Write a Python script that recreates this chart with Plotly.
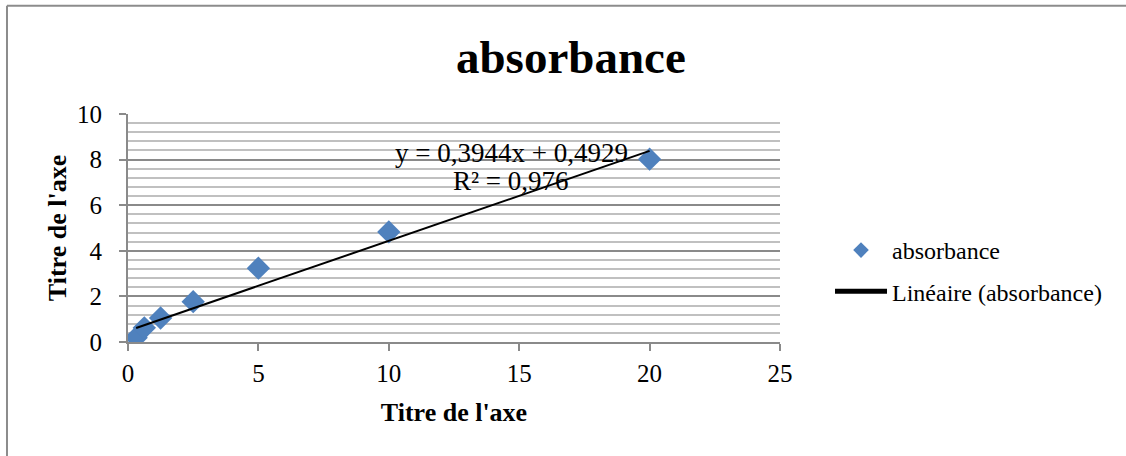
import plotly.graph_objects as go

# Data
x_vals = [0.3125, 0.625, 1.25, 2.5, 5, 10, 20]
y_vals = [0.19, 0.62, 1.05, 1.77, 3.24, 4.83, 8.02]
slope = 0.3944
intercept = 0.4929
r2 = 0.976
series_name = "absorbance"
trend_name = "Linéaire (absorbance)"
x_ticks = [0, 5, 10, 15, 20, 25]
y_ticks = [0, 2, 4, 6, 8, 10]

FONT = "Liberation Serif"
GRID_MAJOR = "#8a8a8a"
GRID_MINOR = "#c0c0c0"

trend_x = [min(x_vals), max(x_vals)]
trend_y = [slope * v + intercept for v in trend_x]

fig = go.Figure()
fig.add_trace(go.Scatter(
    x=x_vals, y=y_vals, mode="markers", name=series_name,
    marker=dict(symbol="diamond", size=18, color="#4F81BD", line=dict(width=0)),
    legendgroup="a",
))
fig.add_trace(go.Scatter(
    x=trend_x, y=trend_y, mode="lines", name=trend_name,
    line=dict(color="black", width=2),
    legendgroup="b",
))

def fmt(v):
    return str(v).replace(".", ",")

fig.add_annotation(x=14.69, y=8.3, xref="x", yref="y", showarrow=False,
                   text=f"y = {fmt(slope)}x + {fmt(intercept)}",
                   font=dict(family=FONT, size=27, color="black"))
fig.add_annotation(x=14.69, y=7.07, xref="x", yref="y", showarrow=False,
                   text=f"R² = {fmt(r2)}",
                   font=dict(family=FONT, size=27, color="black"))

# outer frame (left and top edges)
fig.add_shape(type="line", xref="paper", yref="paper",
              x0=-0.1856, x1=-0.1856, y0=1.475, y1=-0.6,
              line=dict(color="#8c8c8c", width=2))
fig.add_shape(type="line", xref="paper", yref="paper",
              x0=-0.1856, x1=1.55, y0=1.475, y1=1.475,
              line=dict(color="#8c8c8c", width=2))

fig.update_layout(
    width=1126, height=456,
    margin=dict(l=128, r=346, t=114, b=114, pad=0),
    paper_bgcolor="white", plot_bgcolor="white",
    font=dict(family=FONT, color="black", size=25),
    title=dict(text="<b>absorbance</b>", x=0.507, xanchor="center",
               y=1 - 57 / 456, yanchor="middle",
               font=dict(family=FONT, size=47, color="black")),
    showlegend=True,
    legend=dict(x=1.0767, xanchor="left", y=0.50, yanchor="top",
                font=dict(family=FONT, size=24, color="black"),
                traceorder="grouped", tracegroupgap=7,
                itemwidth=52, itemsizing="constant",
                bgcolor="rgba(0,0,0,0)"),
    xaxis=dict(
        range=[0, 25], tickvals=x_ticks, showgrid=False, zeroline=False,
        showline=True, linecolor="#8a8a8a", linewidth=2,
        ticks="outside", ticklen=7, tickcolor="#8a8a8a", tickwidth=2,
        ticklabelstandoff=1,
        tickfont=dict(family=FONT, size=25),
        title=dict(text="<b>Titre de l'axe</b>", standoff=17,
                   font=dict(family=FONT, size=26)),
    ),
    yaxis=dict(
        range=[0, 10], tickvals=y_ticks, showgrid=True, gridcolor=GRID_MAJOR,
        gridwidth=2, zeroline=False,
        showline=True, linecolor="#8a8a8a", linewidth=2,
        ticks="outside", ticklen=7, tickcolor="#8a8a8a", tickwidth=2,
        ticklabelstandoff=12,
        tickfont=dict(family=FONT, size=25),
        minor=dict(dtick=0.4, tick0=0, showgrid=True, gridcolor=GRID_MINOR,
                   gridwidth=2, ticks=""),
        title=dict(text="<b>Titre de l'axe</b>", standoff=3,
                   font=dict(family=FONT, size=26)),
    ),
)

fig.write_html("out.html")
